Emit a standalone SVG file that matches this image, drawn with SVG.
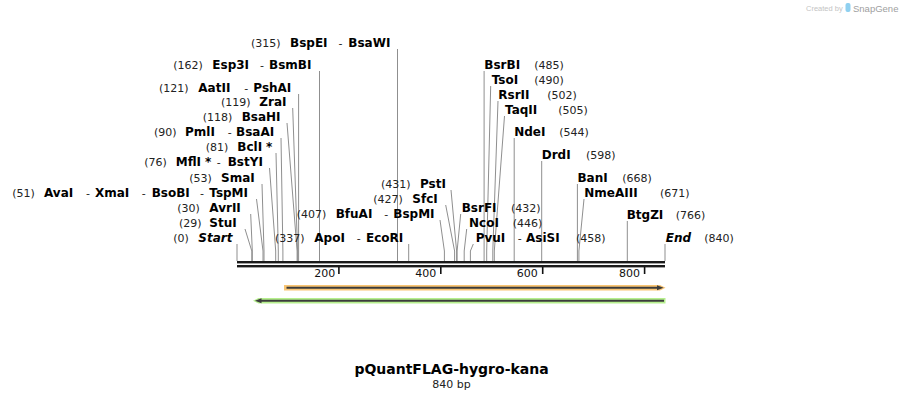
<svg xmlns="http://www.w3.org/2000/svg" width="903" height="400" viewBox="0 0 903 400">
<style>
text{font-family:"DejaVu Sans",Verdana,sans-serif}
.n{font-size:11px;fill:#222}
.b{font-size:12px;font-weight:bold;fill:#000}
.i{font-style:italic}
.c{fill:none;stroke:#8f8f8f;stroke-width:1}
.tk{stroke:#111;stroke-width:1.6}
.sc{font-size:11px;fill:#111;text-anchor:end}
</style>
<rect width="903" height="400" fill="#fff"/>
<g id="watermark">
<text x="806" y="11" style="font-size:7.5px;fill:#c4c4c4;font-family:'Liberation Sans',sans-serif">Created by</text>
<rect x="845.5" y="3" width="5" height="9" rx="2" fill="#8fd0f0"/>
<text x="853" y="11.5" style="font-size:9.5px;fill:#a0a0a0;font-family:'Liberation Sans',sans-serif">SnapGene</text>
</g>
<g id="connectors">
<path class="c" d="M397.5,49V261"/>
<path class="c" d="M319.5,71V261"/>
<path class="c" d="M298.6,94V261"/>
<path class="c" d="M292.7,108L297.6,251V261"/>
<path class="c" d="M287,123L297.1,251V261"/>
<path class="c" d="M281,138L282.9,251V261"/>
<path class="c" d="M276,153L278.3,251V261"/>
<path class="c" d="M269.5,168L275.7,251V261"/>
<path class="c" d="M262,184L264,251V261"/>
<path class="c" d="M256.5,199L263,251V261"/>
<path class="c" d="M250.7,214L252.3,251V261"/>
<path class="c" d="M245,229L251.8,251V261"/>
<path class="c" d="M237,244V261"/>
<path class="c" d="M440,220L444.4,251V261"/>
<path class="c" d="M408.7,244V261"/>
<path class="c" d="M451,190L456.6,251V261"/>
<path class="c" d="M445.7,205L454.6,251V261"/>
<path class="c" d="M484.1,71V261"/>
<path class="c" d="M490.7,86L486.7,251V261"/>
<path class="c" d="M498,101L492.8,251V261"/>
<path class="c" d="M504.5,116L494.3,251V261"/>
<path class="c" d="M514.2,138V261"/>
<path class="c" d="M541.7,161V261"/>
<path class="c" d="M577.4,184V261"/>
<path class="c" d="M584,199L578.9,251V261"/>
<path class="c" d="M627.3,221V261"/>
<path class="c" d="M665,244V261"/>
<path class="c" d="M460.7,214L457.1,251V261"/>
<path class="c" d="M466.7,229L464.2,251V261"/>
<path class="c" d="M473.3,244L470.4,251V261"/>
</g>
<g id="map">
<rect x="237" y="261" width="428" height="2.4" fill="#1a1a1a"/>
<rect x="237" y="265" width="428" height="2.4" fill="#1a1a1a"/>
<line class="tk" x1="338.9" y1="267" x2="338.9" y2="274"/>
<line class="tk" x1="440.8" y1="267" x2="440.8" y2="274"/>
<line class="tk" x1="542.7" y1="267" x2="542.7" y2="274"/>
<line class="tk" x1="644.6" y1="267" x2="644.6" y2="274"/>
<text class="sc" x="335.3" y="277">200</text>
<text class="sc" x="436.3" y="277">400</text>
<text class="sc" x="537.7" y="277">600</text>
<text class="sc" x="640" y="277">800</text>
</g>
<g id="feature-orange">
<path d="M284,284.9H660L665.5,287.7L660,290.5H284Z" fill="#f9c574"/>
<path d="M286.5,287.7H658" stroke="#3c3c3c" stroke-width="2"/>
<path d="M657,285.2L663.5,287.7L657,290.2Z" fill="#3c3c3c"/>
</g>
<g id="feature-green">
<path d="M253,300.7L258.5,297.9H665.5V303.5H258.5Z" fill="#b6ef8e"/>
<path d="M259,300.7H664" stroke="#3c3c3c" stroke-width="2"/>
<path d="M255,300.7L261.5,298.2V303.2Z" fill="#3c3c3c"/>
</g>
<g id="site-BspEI"><text y="46.5"><tspan class="n" x="251">(315)</tspan><tspan class="b" x="290">BspEI</tspan><tspan class="n" x="338.5">-</tspan><tspan class="b" x="348.3">BsaWI</tspan></text></g>
<g id="site-Esp3I"><text y="68.5"><tspan class="n" x="173.3">(162)</tspan><tspan class="b" x="212.3">Esp3I</tspan><tspan class="n" x="260">-</tspan><tspan class="b" x="269">BsmBI</tspan></text></g>
<g id="site-AatII"><text y="91.5"><tspan class="n" x="159">(121)</tspan><tspan class="b" x="198.3">AatII</tspan><tspan class="n" x="244.3">-</tspan><tspan class="b" x="253.3">PshAI</tspan></text></g>
<g id="site-ZraI"><text y="105.5"><tspan class="n" x="221">(119)</tspan><tspan class="b" x="259.3">ZraI</tspan></text></g>
<g id="site-BsaHI"><text y="120.5"><tspan class="n" x="202.7">(118)</tspan><tspan class="b" x="241.7">BsaHI</tspan></text></g>
<g id="site-PmlI"><text y="135.5"><tspan class="n" x="154">(90)</tspan><tspan class="b" x="185">PmlI</tspan><tspan class="n" x="227.7">-</tspan><tspan class="b" x="236">BsaAI</tspan></text></g>
<g id="site-BclI"><text y="150.5"><tspan class="n" x="205.7">(81)</tspan><tspan class="b" x="237.3">BclI</tspan><tspan class="b" x="266">*</tspan></text></g>
<g id="site-MflI"><text y="165.5"><tspan class="n" x="144.3">(76)</tspan><tspan class="b" x="175.7">MflI</tspan><tspan class="b" x="205">*</tspan><tspan class="n" x="216.7">-</tspan><tspan class="b" x="227.7">BstYI</tspan></text></g>
<g id="site-SmaI"><text y="181.5"><tspan class="n" x="189.3">(53)</tspan><tspan class="b" x="221">SmaI</tspan></text></g>
<g id="site-AvaI"><text y="196.5"><tspan class="n" x="12.3">(51)</tspan><tspan class="b" x="44">AvaI</tspan><tspan class="n" x="86">-</tspan><tspan class="b" x="95">XmaI</tspan><tspan class="n" x="141.7">-</tspan><tspan class="b" x="151.7">BsoBI</tspan><tspan class="n" x="200">-</tspan><tspan class="b" x="209.3">TspMI</tspan></text></g>
<g id="site-AvrII"><text y="211.5"><tspan class="n" x="177.3">(30)</tspan><tspan class="b" x="209.3">AvrII</tspan></text></g>
<g id="site-StuI"><text y="226.5"><tspan class="n" x="179">(29)</tspan><tspan class="b" x="209.3">StuI</tspan></text></g>
<g id="site-Start"><text y="241.5"><tspan class="n" x="173.3">(0)</tspan><tspan class="b i" x="198.3">Start</tspan></text></g>
<g id="site-BfuAI"><text y="217.5"><tspan class="n" x="296.7">(407)</tspan><tspan class="b" x="335.7">BfuAI</tspan><tspan class="n" x="384.3">-</tspan><tspan class="b" x="393.3">BspMI</tspan></text></g>
<g id="site-ApoI"><text y="241.5"><tspan class="n" x="275">(337)</tspan><tspan class="b" x="314.3">ApoI</tspan><tspan class="n" x="356.7">-</tspan><tspan class="b" x="366">EcoRI</tspan></text></g>
<g id="site-PstI"><text y="187.5"><tspan class="n" x="381">(431)</tspan><tspan class="b" x="420">PstI</tspan></text></g>
<g id="site-SfcI"><text y="202.5"><tspan class="n" x="373.3">(427)</tspan><tspan class="b" x="412.3">SfcI</tspan></text></g>
<g id="site-BsrFI"><text y="211.5"><tspan class="b" x="461.7">BsrFI</tspan><tspan class="n" x="511">(432)</tspan></text></g>
<g id="site-NcoI"><text y="226.5"><tspan class="b" x="469">NcoI</tspan><tspan class="n" x="512.7">(446)</tspan></text></g>
<g id="site-PvuI"><text y="241.5"><tspan class="b" x="475.7">PvuI</tspan><tspan class="n" x="517.7">-</tspan><tspan class="b" x="526">AsiSI</tspan><tspan class="n" x="576">(458)</tspan></text></g>
<g id="site-BsrBI"><text y="68.5"><tspan class="b" x="484.3">BsrBI</tspan><tspan class="n" x="534.3">(485)</tspan></text></g>
<g id="site-TsoI"><text y="83.5"><tspan class="b" x="491.7">TsoI</tspan><tspan class="n" x="534.3">(490)</tspan></text></g>
<g id="site-RsrII"><text y="98.5"><tspan class="b" x="498.3">RsrII</tspan><tspan class="n" x="547.3">(502)</tspan></text></g>
<g id="site-TaqII"><text y="113.5"><tspan class="b" x="505">TaqII</tspan><tspan class="n" x="558.3">(505)</tspan></text></g>
<g id="site-NdeI"><text y="135.5"><tspan class="b" x="514.2">NdeI</tspan><tspan class="n" x="559.3">(544)</tspan></text></g>
<g id="site-DrdI"><text y="158.5"><tspan class="b" x="541.7">DrdI</tspan><tspan class="n" x="586">(598)</tspan></text></g>
<g id="site-BanI"><text y="181.5"><tspan class="b" x="577.4">BanI</tspan><tspan class="n" x="622.3">(668)</tspan></text></g>
<g id="site-NmeAIII"><text y="196.5"><tspan class="b" x="584.3">NmeAIII</tspan><tspan class="n" x="660">(671)</tspan></text></g>
<g id="site-BtgZI"><text y="218.5"><tspan class="b" x="626.7">BtgZI</tspan><tspan class="n" x="675.7">(766)</tspan></text></g>
<g id="site-End"><text y="241.5"><tspan class="b i" x="665.7">End</tspan><tspan class="n" x="704.3">(840)</tspan></text></g>
<g id="title">
<text x="451.5" y="374" text-anchor="middle" style="font-size:14px;font-weight:bold;fill:#000">pQuantFLAG-hygro-kana</text>
<text x="451.5" y="388" text-anchor="middle" style="font-size:11px;fill:#222">840 bp</text>
</g>
</svg>
